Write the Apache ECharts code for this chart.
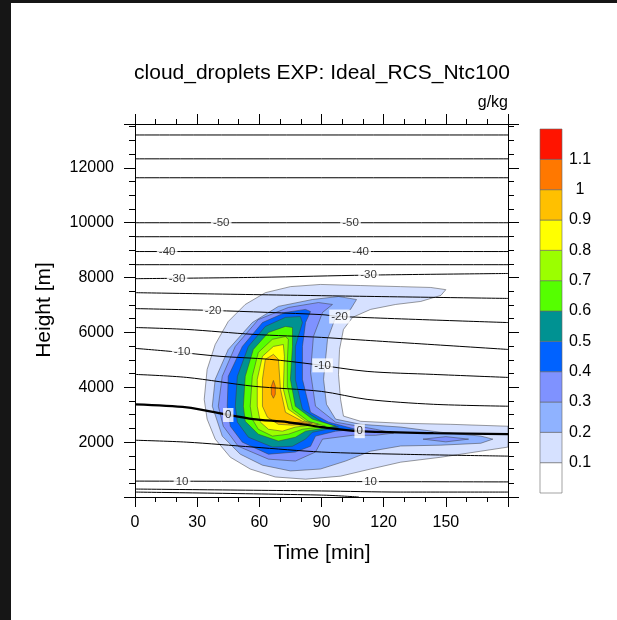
<!DOCTYPE html>
<html>
<head>
<meta charset="utf-8">
<script src="https://cdn.jsdelivr.net/npm/echarts@6/dist/echarts.min.js"></script>
<style>
  html, body { margin: 0; padding: 0; background: #fff; }
  #chart { width: 617px; height: 620px; }
</style>
</head>
<body>
<div id="chart"></div>
<script>
const FONT = '"Liberation Sans", Arial, sans-serif';

// contour levels (g/kg) and their fill colours, lowest first
const levelBounds = [0, 0.1, 0.2, 0.3, 0.4, 0.5, 0.6, 0.7, 0.8, 0.9, 1.0, 1.1, 1.2];
const levelColors = ['#ffffff', '#d6e1ff', '#8fb2ff', '#7f92ff', '#0062ff', '#009292',
  '#55ff00', '#9bff00', '#ffff00', '#ffc000', '#ff7800', '#ff1400'];

// cloud droplet areas, [time (min), height (m)]
const cloud01 = [[33.4,3560],[34.8,4650],[38.7,5560],[45,6400],[53.2,7020],[62.9,7450],[75,7670],[89.5,7750],[108.9,7710],[128.2,7670],[142.7,7640],[150,7560],[147.6,7350],[137.9,7130],[125.8,7020],[113.7,6840],[105,6550],[100.6,6110],[98.7,5380],[98.2,4470],[99.2,3560],[100.6,2950],[108.9,2760],[128.2,2690],[152.4,2650],[180,2580],[180,1820],[166.9,1670],[147.6,1450],[128.2,1270],[113.7,1020],[99.2,760],[82.3,650],[67.7,730],[55.6,1020],[46,1450],[38.7,2110],[34.8,2840]];
const cloud02 = [[37.3,3310],[38.7,4290],[45,5380],[56.6,6360],[69.2,6950],[85.6,7200],[98.2,7310],[106.9,7200],[104,6840],[96.8,6550],[92.9,5750],[91,4290],[92.4,3380],[96.8,2840],[108.9,2650],[128.2,2550],[147.6,2360],[166.9,2220],[172.7,2110],[166.9,1960],[147.6,1890],[128.2,1860],[113.7,1670],[101.6,1310],[89.5,1020],[75,950],[61.5,1160],[50.8,1560],[42.1,2220]];
const cloud03 = [[40.2,3310],[42.1,4400],[48.4,5490],[59.5,6470],[74,6910],[88.5,7090],[95.3,7020],[90.5,6730],[86.1,5850],[84.7,4550],[87.1,3310],[96.8,2730],[116.1,2470],[124.8,2330],[116.1,2250],[105,2250],[90.5,2110],[87.1,1640],[77.4,1310],[64.4,1380],[49.8,1850],[42.6,2580]];
const cloud03b = [[139,2110],[150,2200],[161,2110],[150,2010]];
const cloud04 = [[44.5,3310],[45,4400],[51.8,5490],[61.5,6360],[72.6,6730],[82.3,6840],[84.7,6760],[82.3,6360],[80.8,5490],[80.8,4290],[84.7,3090],[93.4,2730],[106.5,2470],[96.8,2400],[87.1,2220],[84.7,1850],[77.4,1640],[64.4,1560],[51.8,2000],[46,2580]];
const cloud05 = [[48.4,3310],[49.4,4400],[54.7,5490],[62.9,6220],[72.6,6550],[79.8,6580],[80.8,6360],[77.4,5490],[77.4,4290],[80.8,3200],[90.5,2730],[98.2,2550],[85.6,2360],[82.3,2110],[76,1850],[66.3,1820],[54.7,2180],[49.4,2730]];
const cloud06 = [[52.3,3310],[53.2,4400],[57.1,5380],[64.4,6000],[72.6,6220],[76,6180],[76,5490],[75,4290],[77.4,3310],[85.6,2840],[96.8,2580],[82.3,2400],[77.4,2180],[69.2,2040],[59.5,2290],[53.2,2760]];
const cloud07 = [[55.6,3310],[56.6,4400],[59.5,5270],[66.3,5750],[72.6,5850],[74,5750],[73.5,4910],[73.5,4040],[76,3200],[83.7,2760],[91.9,2580],[80.8,2470],[74,2290],[66.3,2220],[59.5,2470],[56.6,2840]];
const cloud08 = [[59,3310],[59,4290],[61.5,5130],[66.8,5490],[71.6,5560],[72.1,5130],[71.6,3930],[74,3200],[82.3,2760],[88.5,2650],[77.4,2550],[71.1,2400],[64.4,2470],[60.5,2730]];
const cloud09 = [[61.5,3310],[61.5,4290],[62.9,5020],[66.8,5200],[69.2,5020],[70.2,3930],[72.6,3090],[80.8,2760],[85.6,2690],[76,2620],[69.2,2650],[63.9,2910]];
const cloud10a = [[66.8,4250],[67.7,4040],[67.7,3750],[66.8,3600],[65.8,3750],[65.8,4040]];
const cloud10b = [[74,2690],[79.8,2730],[84.7,2650],[79.8,2620]];

// temperature isotherms (deg C)
const isoTemps = [-65, -60, -55, -50, -45, -40, -35, -30, -25, -20, -15, -10, -5, 0, 5, 10, 15, 20];
const isoLines = [
  [[0,13200],[180,13200]],
  [[0,12330],[180,12330]],
  [[0,11640],[180,11640]],
  [[0,10000],[180,10000]],
  [[0,9490],[180,9490]],
  [[0,8950],[180,8950]],
  [[0,8470],[180,8470]],
  [[0,7960],[60,8010],[112,8090],[180,8150]],
  [[0,7450],[90,7340],[180,7240]],
  [[0,6870],[38,6800],[90,6650],[99,6580],[180,6360]],
  [[0,6180],[25,6110],[57,5930],[90,5820],[104,5750],[180,5380]],
  [[0,5420],[17,5310],[41,5130],[65,5020],[86,4840],[112,4580],[144,4470],[180,4360]],
  [[0,4470],[25,4360],[57,4040],[90,3850],[112,3560],[144,3380],[180,3310]],
  [[0,3380],[25,3270],[43,3020],[57,2840],[73.5,2730],[90,2550],[108,2400],[144,2330],[180,2290]],
  [[0,2070],[25,2000],[57,1820],[90,1640],[128,1560],[180,1490]],
  [[0,580],[180,550]],
  [[0,290],[90,220],[128,180],[180,180]],
  [[0,180],[90,70],[108,0]]
];
const isoLabels = [
  [41.6,10000,'-50'], [104,10000,'-50'],
  [15.5,8950,'-40'], [108.9,8950,'-40'],
  [20.3,7970,'-30'], [112.7,8090,'-30'],
  [37.7,6800,'-20'], [98.7,6580,'-20'],
  [22.7,5310,'-10'], [90.5,4800,'-10'],
  [45,2990,'0'], [108.4,2400,'0'],
  [22.7,570,'10'], [113.7,560,'10']
];

const cloudAreas = [
  {level: 1, pts: cloud01}, {level: 2, pts: cloud02}, {level: 3, pts: cloud03},
  {level: 3, pts: cloud03b}, {level: 4, pts: cloud04}, {level: 5, pts: cloud05},
  {level: 6, pts: cloud06}, {level: 7, pts: cloud07}, {level: 8, pts: cloud08},
  {level: 9, pts: cloud09}, {level: 10, pts: cloud10a}, {level: 10, pts: cloud10b}
];

const chart = echarts.init(document.getElementById('chart'), null, {renderer: 'canvas'});

const tickStyle = {color: '#000', width: 1};
function timeAxis(position, showLabels) {
  return {
    type: 'value', gridIndex: 0, position: position, min: 0, max: 180, interval: 30,
    axisLine: {show: true, onZero: false, lineStyle: tickStyle},
    axisTick: {show: true, length: 10, lineStyle: tickStyle},
    minorTick: {show: true, splitNumber: 3, length: 5, lineStyle: tickStyle},
    axisLabel: {show: showLabels, color: '#000', fontSize: 16, fontFamily: FONT, margin: 18, showMaxLabel: false},
    splitLine: {show: false}
  };
}
function heightAxis(position, showLabels) {
  return {
    type: 'value', gridIndex: 0, position: position, min: 0, max: 13600, interval: 2000,
    axisLine: {show: true, onZero: false, lineStyle: tickStyle},
    axisTick: {show: true, length: 11, lineStyle: tickStyle},
    minorTick: {show: true, splitNumber: 4, length: 6, lineStyle: tickStyle},
    axisLabel: {show: showLabels, color: '#000', fontSize: 16, fontFamily: FONT, margin: 21,
      showMinLabel: false, showMaxLabel: false, formatter: v => String(v)},
    splitLine: {show: false}
  };
}

const series = [];

series.push({
  type: 'custom',
  xAxisIndex: 0, yAxisIndex: 0,
  clip: true,
  silent: true,
  z: 2,
  data: cloudAreas.map((a, i) => [i, 0]),
  renderItem: (params, api) => {
    const area = cloudAreas[params.dataIndex];
    return {
      type: 'polygon',
      shape: {points: area.pts.map(p => api.coord(p))},
      style: {fill: levelColors[area.level], stroke: '#3a3a3a', lineWidth: 0.5}
    };
  }
});

isoLines.forEach((line, i) => {
  series.push({
    type: 'line',
    name: String(isoTemps[i]),
    xAxisIndex: 0, yAxisIndex: 0,
    data: line,
    smooth: 0.3,
    symbol: 'none',
    silent: true,
    z: 3,
    lineStyle: {color: '#000', width: isoTemps[i] === 0 ? 2.2 : 1}
  });
});

series.push({
  type: 'scatter',
  xAxisIndex: 0, yAxisIndex: 0,
  symbolSize: 0,
  silent: true,
  z: 4,
  data: isoLabels.map(l => ({name: l[2], value: [l[0], l[1]]})),
  label: {
    show: true, position: 'inside', formatter: '{b}', color: '#000',
    fontSize: 11.5, fontFamily: FONT, backgroundColor: '#fff', padding: [1, 2]
  }
});

// colour bar
series.push({
  type: 'custom',
  xAxisIndex: 2, yAxisIndex: 2,
  silent: true,
  data: levelColors.map((c, i) => [0.5, (levelBounds[i] + levelBounds[i + 1]) / 2]),
  renderItem: (params, api) => {
    const i = params.dataIndex;
    const p0 = api.coord([0, levelBounds[i]]);
    const p1 = api.coord([1, levelBounds[i + 1]]);
    return {
      type: 'rect',
      shape: {x: p0[0], y: p1[1], width: p1[0] - p0[0], height: p0[1] - p1[1]},
      style: {fill: levelColors[i], stroke: '#666', lineWidth: 0.6}
    };
  }
});

chart.setOption({
  animation: false,
  backgroundColor: '#fff',
  grid: [
    {left: 135, top: 124, width: 373, height: 373},
    {left: 540, top: 129, width: 22, height: 364}
  ],
  xAxis: [
    timeAxis('bottom', true),
    timeAxis('top', false),
    {type: 'value', gridIndex: 1, min: 0, max: 1, show: false}
  ],
  yAxis: [
    heightAxis('left', true),
    heightAxis('right', false),
    {
      type: 'value', gridIndex: 1, position: 'right', min: 0, max: 1.2, interval: 0.1,
      axisLine: {show: false}, axisTick: {show: false}, splitLine: {show: false},
      axisLabel: {color: '#000', fontSize: 16, fontFamily: FONT, margin: 18, align: 'center',
        showMinLabel: false, showMaxLabel: false}
    }
  ],
  graphic: [
    {type: 'rect', shape: {x: 0, y: 0, width: 11, height: 620}, style: {fill: '#161616'}},
    {type: 'rect', shape: {x: 0, y: 0, width: 617, height: 3}, style: {fill: '#161616'}},
    {type: 'text', x: 322, y: 73, style: {text: 'cloud_droplets EXP: Ideal_RCS_Ntc100',
      font: '21px ' + FONT, fill: '#000', textAlign: 'center', textVerticalAlign: 'middle'}},
    {type: 'text', x: 508, y: 103, style: {text: 'g/kg',
      font: '16px ' + FONT, fill: '#000', textAlign: 'right', textVerticalAlign: 'middle'}},
    {type: 'text', x: 322, y: 553, style: {text: 'Time [min]',
      font: '21px ' + FONT, fill: '#000', textAlign: 'center', textVerticalAlign: 'middle'}},
    {type: 'text', x: 44, y: 310, rotation: Math.PI / 2, style: {text: 'Height [m]',
      font: '21px ' + FONT, fill: '#000', textAlign: 'center', textVerticalAlign: 'middle'}}
  ],
  series: series
});
</script>
</body>
</html>
